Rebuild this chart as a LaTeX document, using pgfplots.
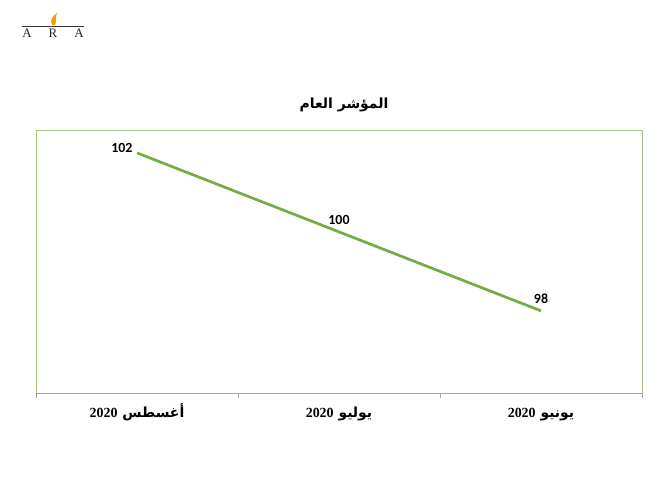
\documentclass[border=0pt]{standalone}
\usepackage{pgfplots}
\pgfplotsset{compat=1.18}
\usepackage{fontspec}
\setmainfont{Liberation Serif}
\newfontfamily\arabicfont[Script=Arabic]{DejaVu Sans}
\newfontfamily\labfont{Carlito}
\TeXXeTstate=1
\definecolor{linegreen}{HTML}{77AC43}
\definecolor{boxgreen}{HTML}{A9C47F}
\begin{document}
\begin{tikzpicture}
\path[fill=white] (0bp,0bp) rectangle (667bp,500bp);
% logo
\draw[black!80, line width=0.8bp] (22bp,474bp) -- (84bp,474bp);
\fill[orange!80!yellow] (52bp,475bp) .. controls (49bp,480bp) and (53bp,484bp) .. (57bp,487bp) .. controls (55bp,483bp) and (57bp,479bp) .. (55bp,475bp) -- cycle;
\node[font=\fontsize{13}{15}\selectfont, text=black!85] at (53bp,467bp) {A\hspace{17bp}R\hspace{17bp}A};
% title
\node[font=\arabicfont\bfseries\fontsize{14}{17}\selectfont] at (344bp,395bp) {\beginR المؤشر العام\endR};
\begin{axis}[
  at={(36bp,107bp)}, anchor=south west,
  width=606bp, height=263bp, scale only axis,
  xmin=-0.5, xmax=2.5, ymin=95.92, ymax=102.58,
  axis line style={boxgreen, line width=0.8bp},
  ytick=\empty,
  xtick={0,1,2},
  xticklabels={{\arabicfont\bfseries\beginR أغسطس \beginL\rmfamily 2020\endL\endR},
               {\arabicfont\bfseries\beginR يوليو \beginL\rmfamily 2020\endL\endR},
               {\arabicfont\bfseries\beginR يونيو \beginL\rmfamily 2020\endL\endR}},
  xticklabel style={font=\bfseries\fontsize{14}{16}\selectfont, yshift=-10bp, text height=11bp, text depth=3bp},
  major x tick style={draw=none},
  xtick pos=bottom,
  extra x ticks={-0.5,0.5,1.5,2.5},
  extra x tick labels={},
  extra x tick style={major tick length=5bp, tick align=outside, major x tick style={draw=black!35, line width=0.8bp}},
  clip=false,
]
\addplot[linegreen, line width=2.7bp] coordinates {(0,102) (1,100) (2,98)};
\addplot[draw=none, nodes near coords, point meta=explicit symbolic,
  every node near coord/.append style={font=\labfont\bfseries\fontsize{14}{16}\selectfont, text=black, anchor=east, xshift=-1bp, yshift=5bp}]
  coordinates {(0,102)[102]};
\addplot[draw=none, nodes near coords, point meta=explicit symbolic,
  every node near coord/.append style={font=\labfont\bfseries\fontsize{14}{16}\selectfont, text=black, yshift=4bp}]
  coordinates {(1,100)[100] (2,98)[98]};
\draw[black!35, line width=0.8bp] (rel axis cs:0,0) -- (rel axis cs:1,0);
\end{axis}
\pgfresetboundingbox
\useasboundingbox (0bp,0bp) rectangle (667bp,500bp);
\end{tikzpicture}
\end{document}
